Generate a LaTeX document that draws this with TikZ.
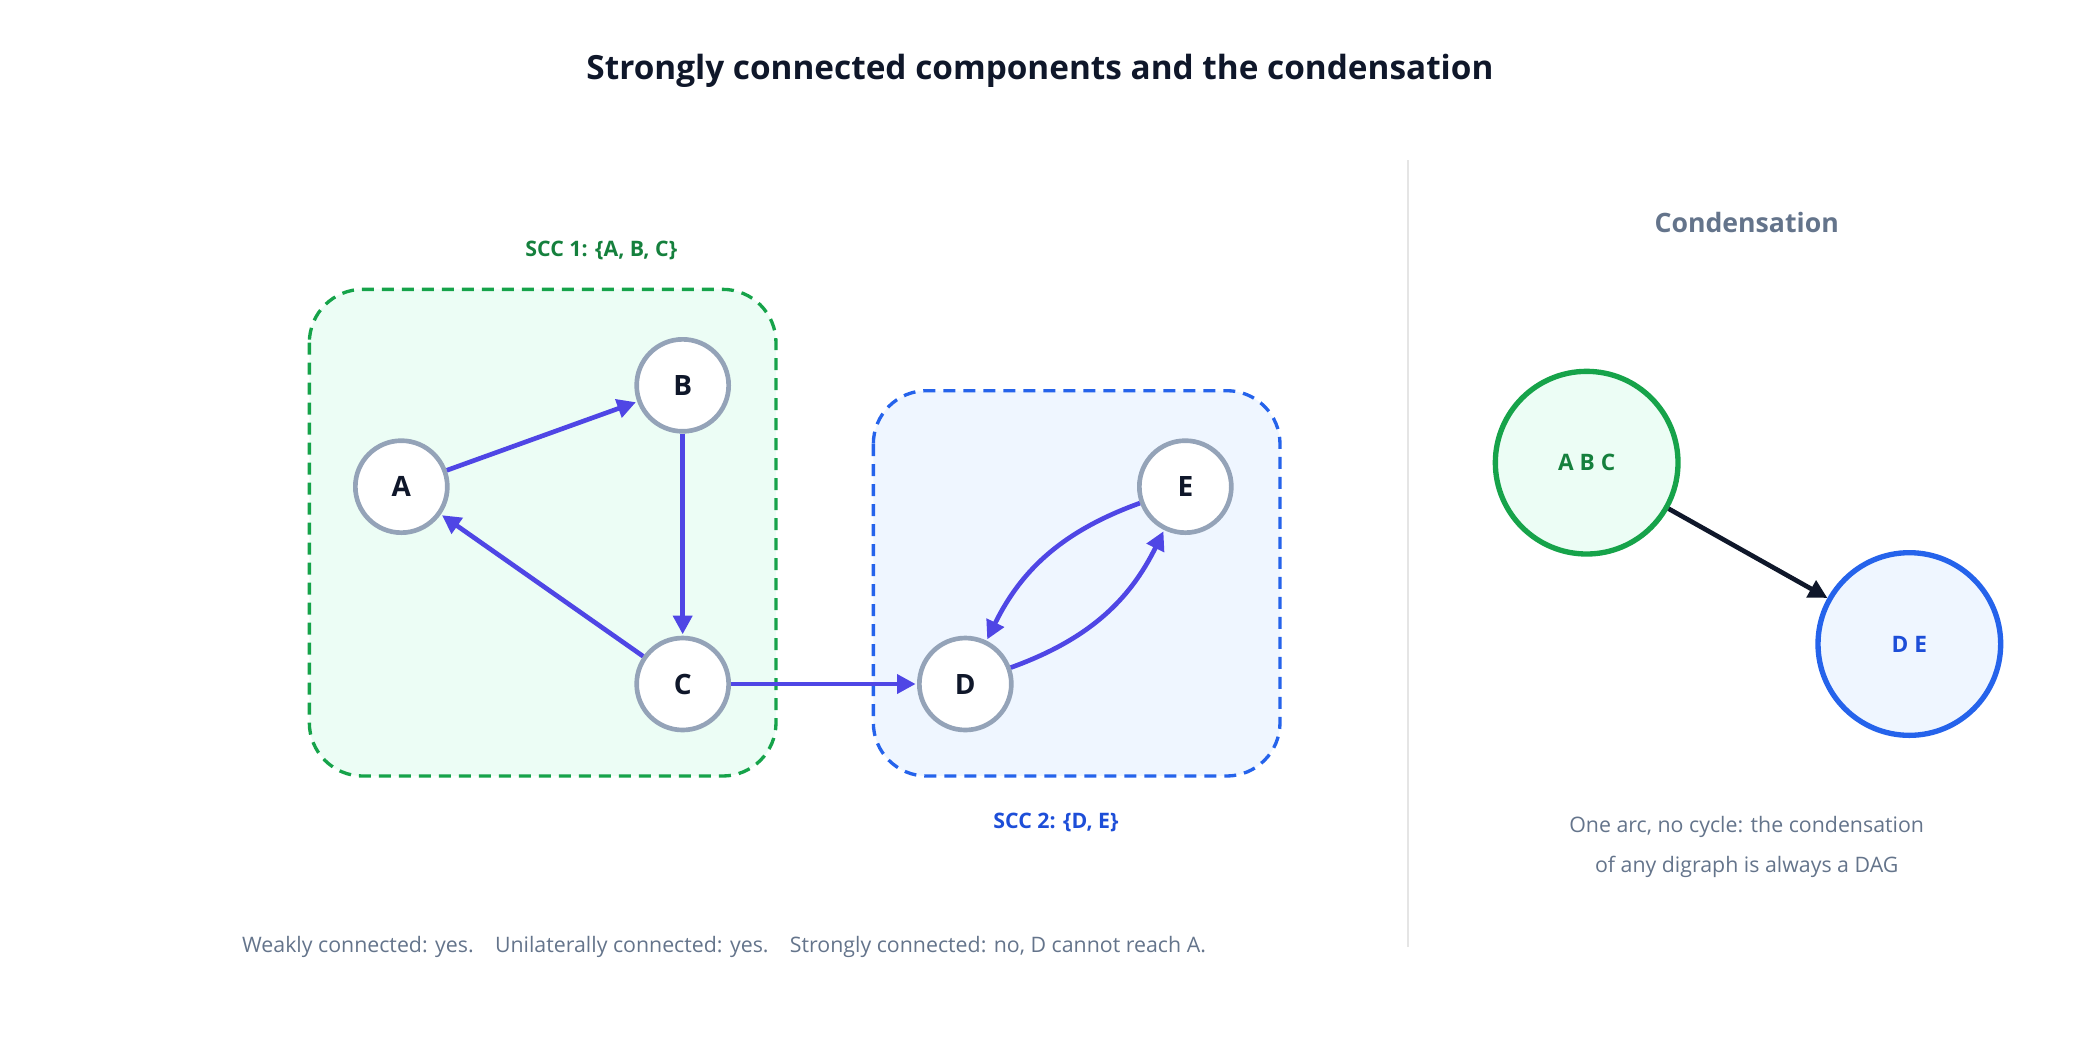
\documentclass[tikz,border=0pt]{standalone}
\usepackage{fontspec}
\setmainfont{Open Sans}
\usetikzlibrary{arrows.meta}
\definecolor{arc}{HTML}{4F46E5}
\definecolor{ring}{HTML}{94A3B8}
\definecolor{ink}{HTML}{0F172A}
\definecolor{muted}{HTML}{64748B}
\definecolor{g1}{HTML}{16A34A}
\definecolor{g2}{HTML}{15803D}
\definecolor{g3}{HTML}{ECFDF5}
\definecolor{b1}{HTML}{2563EB}
\definecolor{b2}{HTML}{1D4ED8}
\definecolor{b3}{HTML}{EFF6FF}

\begin{document}
\begin{tikzpicture}[
    x=1pt, y=-1pt,
    v/.style={
        circle, draw=ring, line width=3.5pt, fill=white,
        minimum size=69pt, inner sep=0pt,
        font=\fontsize{21}{24}\selectfont\bfseries, text=ink
    },
    e/.style={
        draw=arc, line width=3.5pt,
        -{Triangle[length=14pt,width=14pt]}, shorten >=1pt
    },
    box/.style={
        rounded corners=40pt, dashed, line width=2.5pt,
        dash pattern=on 9pt off 6pt
    },
    cv/.style={
        circle, line width=4pt, minimum size=137pt, inner sep=0pt,
        font=\fontsize{17}{20}\selectfont\bfseries
    },
    lbl/.style={font=\fontsize{16}{19}\selectfont\bfseries},
    note/.style={font=\fontsize{16}{30}\selectfont, text=muted, align=center}
]
    \useasboundingbox (0,0) rectangle (1560,780);

    \node (title) [font=\fontsize{25}{30}\selectfont\bfseries, text=ink]
        at (780,53) {Strongly connected components and the condensation};

    \draw[box, draw=g1, fill=g3] (232,217) rectangle (582,582);
    \draw[box, draw=b1, fill=b3] (655,293) rectangle (960,582);
    \node (scc1) [lbl, text=g2] at (451,188) {SCC 1: \{A, B, C\}};
    \node (scc2) [lbl, text=b2] at (792,617) {SCC 2: \{D, E\}};

    \node (a) [v] at (301,365) {A};
    \node (b) [v] at (512,289) {B};
    \node (c) [v] at (512,513) {C};
    \node (d) [v] at (724,513) {D};
    \node (e) [v] at (889,365) {E};

    \draw[e] (a) -- (b);
    \draw[e] (b) -- (c);
    \draw[e] (c) -- (a);
    \draw[e] (c) -- (d);
    \draw[e] (d) to[bend right=22] (e);
    \draw[e] (e) to[bend right=22] (d);

    \draw[draw=black!10, line width=1.5pt] (1056,120) coordinate (top) -- (1056,710) coordinate (bot);

    \node (cond) [font=\fontsize{20}{24}\selectfont\bfseries, text=muted] at (1310,167) {Condensation};
    \node (abc) [cv, draw=g1, fill=g3, text=g2] at (1190,347) {A B C};
    \node (de) [cv, draw=b1, fill=b3, text=b2] at (1432,483) {D E};
    \draw[draw=ink, line width=3.5pt, -{Triangle[length=14pt,width=14pt]}] (abc) -- (de);

    \node (dag) [note] at (1310,635) {One arc, no cycle: the condensation\\of any digraph is always a DAG};
    \node (summary) [note] at (543,710)
        {Weakly connected: yes.\quad Unilaterally connected: yes.\quad Strongly connected: no, D cannot reach A.};
\end{tikzpicture}
\end{document}
